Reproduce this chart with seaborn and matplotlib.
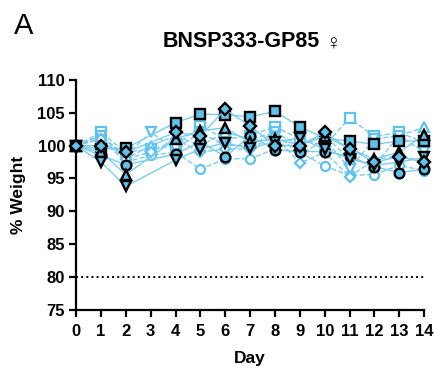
import numpy as np
import pandas as pd
import matplotlib
matplotlib.use("Agg")
import matplotlib.pyplot as plt
import seaborn as sns

sns.set_style("ticks", {'text.color': 'black', 'axes.labelcolor': 'black',
                        'xtick.color': 'black', 'ytick.color': 'black',
                        'axes.edgecolor': 'black'})
plt.rcParams['font.family'] = ['Liberation Sans', 'DejaVu Sans']

dias = list(range(15))
nan = np.nan

# animais com linha cheia (marcador com borda preta), sem medida no dia 3
cheio_quadrado = [100, 99.5, 99.6, nan, 103.5, 104.8, 104.7, 104.4, 105.2, 102.9, 101.1, 100.7, 100.2, 100.7, 100.7]
cheio_circulo = [100, 98.5, 97.1, nan, 98.7, 100.6, 98.3, 101.5, 99.4, 99.1, 99.1, 98.4, 96.8, 95.9, 96.4]
cheio_tri_cima = [100, 99.0, 95.6, nan, 101.0, 102.3, 102.7, 100.5, 101.0, 100.1, 101.5, 99.5, 98.0, 99.0, 101.6]
cheio_tri_baixo = [100, 97.5, 93.8, nan, 97.8, 99.5, 100.4, 99.6, 100.6, 101.1, 99.5, 98.0, 97.0, 97.5, 98.2]
cheio_losango = [100, 100.0, 99.0, nan, 102.0, 101.5, 105.5, 103.0, 100.0, 100.0, 102.0, 99.5, 97.5, 98.3, 97.5]

# animais com linha tracejada (marcador aberto azul claro)
trac_quadrado = [100, 102.0, 99.0, 99.5, 100.0, 103.0, 101.0, 101.5, 102.9, 101.0, 100.0, 104.2, 101.4, 102.0, 100.5]
trac_circulo = [100, 101.0, 97.5, 98.5, 99.0, 96.4, 98.0, 98.0, 99.5, 99.0, 96.9, 95.5, 95.6, 97.0, 96.2]
trac_tri_cima = [100, 101.5, 98.0, 100.0, 101.5, 100.0, 102.0, 101.0, 102.0, 100.0, 101.5, 98.0, 97.0, 101.5, 102.8]
trac_tri_baixo = [100, 101.5, 98.5, 102.0, 99.5, 102.0, 100.0, 100.0, 102.0, 98.5, 101.0, 96.5, 101.0, 101.5, 99.0]
trac_losango = [100, 101.0, 98.0, 99.0, 101.0, 99.0, 99.5, 99.5, 101.5, 97.3, 99.0, 95.3, 97.8, 98.5, 97.5]

azul = '#5FC1EC'
azul_linha = '#7ACDF0'

fig = plt.figure(figsize=(4.35, 3.77), dpi=100)
ax = fig.add_axes([0.175, 0.178, 0.80, 0.61])

tracejados = [(trac_quadrado, 's'), (trac_circulo, 'o'), (trac_tri_cima, '^'),
              (trac_tri_baixo, 'v'), (trac_losango, 'D')]
cheios = [(cheio_quadrado, 's'), (cheio_circulo, 'o'), (cheio_tri_cima, '^'),
          (cheio_tri_baixo, 'v'), (cheio_losango, 'D')]

for valores, m in tracejados:
    df = pd.DataFrame({'Dia': dias, 'Peso': valores}).dropna()
    sns.lineplot(data=df, x='Dia', y='Peso', ax=ax, color=azul_linha, linestyle='--',
                 linewidth=1.0, marker=m, markersize=6.5 if m != 'D' else 5.5,
                 markerfacecolor='white', markeredgecolor=azul, markeredgewidth=1.6,
                 clip_on=False, zorder=2)

for valores, m in cheios:
    df = pd.DataFrame({'Dia': dias, 'Peso': valores}).dropna()
    sns.lineplot(data=df, x='Dia', y='Peso', ax=ax, color=azul_linha, linestyle='-',
                 linewidth=1.0, marker=m, markersize=7 if m != 'D' else 6,
                 markerfacecolor=azul, markeredgecolor='black', markeredgewidth=1.7,
                 clip_on=False, zorder=3)

ax.axhline(80, color='black', linestyle=':', linewidth=1.4, zorder=1)

ax.set_xlim(0, 14)
ax.set_ylim(75, 110)
ax.set_xticks(range(15))
ax.set_yticks(range(75, 111, 5))
ax.set_xlabel('Day', fontsize=12.5, fontweight='bold', labelpad=9)
ax.set_ylabel('% Weight', fontsize=12.5, fontweight='bold', labelpad=8)
ax.tick_params(axis='x', direction='out', length=5, width=1.6, labelsize=12, pad=5)
ax.tick_params(axis='y', direction='out', length=5, width=1.6, labelsize=12, pad=3)
for lab in ax.get_xticklabels() + ax.get_yticklabels():
    lab.set_fontweight('bold')
for lado in ['left', 'bottom']:
    ax.spines[lado].set_linewidth(1.6)
sns.despine(ax=ax)

fig.text(0.736, 0.889, 'BNSP333-GP85', fontsize=15.5, fontweight='bold', ha='right', va='center')
fig.text(0.748, 0.884, '♀', fontsize=15, ha='left', va='center')
fig.text(0.032, 0.93, 'A', fontsize=21, ha='left', va='center')

plt.savefig('out.png', dpi=100)
